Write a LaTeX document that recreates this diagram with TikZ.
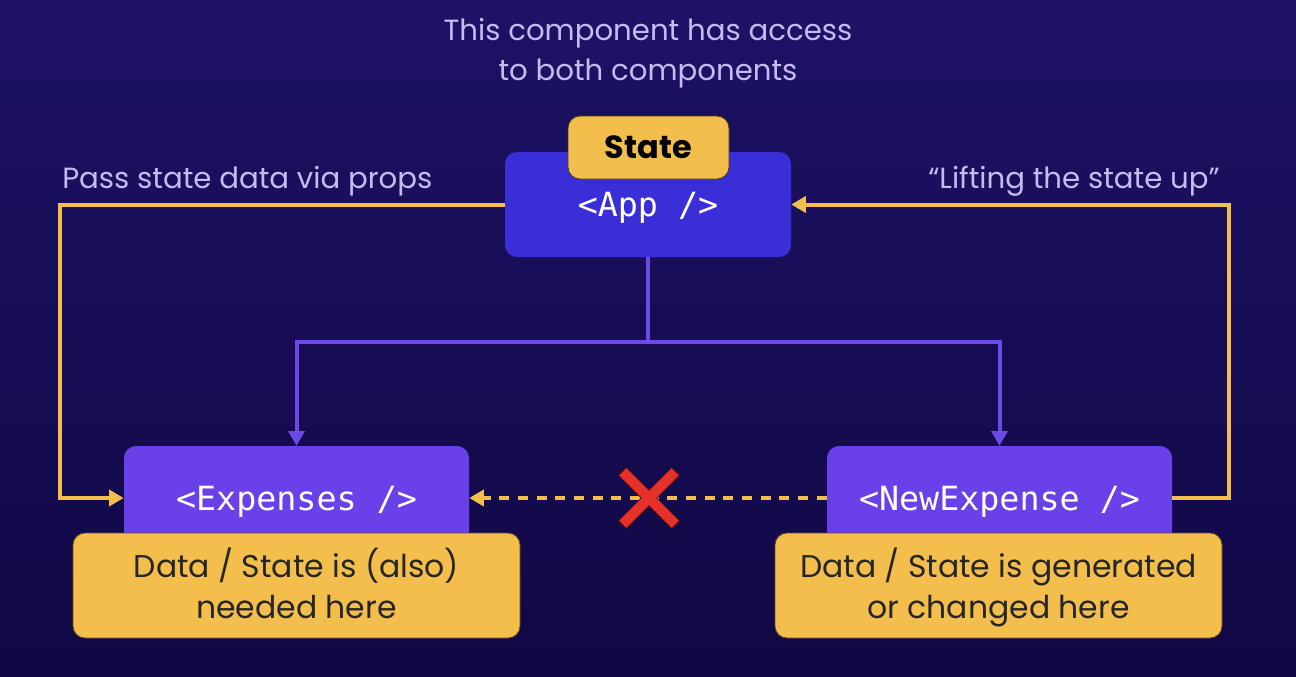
\documentclass[tikz,border=0pt]{standalone}
\usepackage{fontspec}
\setmainfont{Poppins}
\setmonofont{DejaVu Sans Mono}
\usetikzlibrary{arrows.meta}
\definecolor{bgtop}{HTML}{1D1266}
\definecolor{bgbot}{HTML}{100844}
\definecolor{appblue}{HTML}{3A2ED8}
\definecolor{comppurple}{HTML}{6A40E8}
\definecolor{linepurple}{HTML}{6B4AE8}
\definecolor{yel}{HTML}{F4BE4C}
\definecolor{lav}{HTML}{C6BAF0}
\definecolor{crossred}{HTML}{E6302A}
\begin{document}
\begin{tikzpicture}[x=0.75pt,y=-0.75pt,
  yline/.style={draw=yel,line width=3pt},
  pline/.style={draw=linepurple,line width=3pt},
  ytip/.style={-{Triangle[length=11pt,width=12pt]}},
  ptip/.style={-{Triangle[length=11pt,width=12pt]}},
  appbox/.style={fill=appblue,rounded corners=9pt,minimum width=214.5pt,minimum height=78.75pt,text=white,font=\ttfamily\fontsize{25}{30}\selectfont,inner sep=0pt,text height=18.5pt,text depth=0pt},
  compbox/.style={fill=comppurple,rounded corners=9pt,minimum width=258.75pt,minimum height=78pt,text=white,font=\ttfamily\fontsize{25}{30}\selectfont,inner sep=0pt,text height=18.5pt,text depth=0pt},
  notebox/.style={fill=yel,draw=black!60!yel,line width=0.6pt,rounded corners=9pt,minimum width=335.25pt,minimum height=78.75pt,align=center,text=black!85,font=\fontsize{23.6}{31}\selectfont,inner sep=0pt},
  statebox/.style={fill=yel,draw=black!70!yel,line width=0.6pt,rounded corners=9pt,minimum width=120.75pt,minimum height=47.25pt,text=black,font=\bfseries\fontsize{24}{28}\selectfont,inner sep=0pt},
  lbl/.style={text=lav,font=\fontsize{21.9}{30}\selectfont,inner sep=0pt}
]
\shade[top color=bgtop,bottom color=bgbot] (0,0) rectangle (1296,676);
\useasboundingbox (0,0) rectangle (1296,676);

\node[lbl,align=center] (title) at (648,53) {This component has access\\to both components};

\node[appbox] (app) at (648,204.5) {<App />};
\node[statebox] (state) at (648.5,147.5) {State};

\node[compbox] (exp) at (296.5,498) {<Expenses />};
\node[compbox] (newe) at (999.5,498) {<NewExpense />};

\node[notebox] (expnote) at (296.5,585.5) {\rule{0pt}{27.7pt}Data / State is (also)\\\strut needed here};
\node[notebox] (newnote) at (998.5,585.5) {\rule{0pt}{27.7pt}Data / State is generated\\\strut or changed here};

\node[lbl,anchor=west] (pass) at (62,181) {Pass state data via props};
\node[lbl,anchor=east] (lift) at (1220,181) {“Lifting the state up”};

% yellow connectors
\coordinate (lc) at (60,204.5);
\coordinate (rc) at (1229,498);
\draw[yline,ytip] (app.west) -- (lc) |- (exp.west);
\draw[yline,ytip] (newe.east) -- (rc) |- (app.east);
\draw[yline,ytip,dash pattern=on 7.5pt off 6.5pt] (newe.west) -- (exp.east);

% purple connectors
\coordinate (j) at (648,342);
\draw[pline] (app.south) -- (j);
\draw[pline,ptip] (j) -| (exp.north);
\draw[pline,ptip] (j) -| (newe.north);

% red cross
\coordinate (x) at (649,498);
\draw[line width=9pt,draw=black!70!crossred] ([shift={(-27,-27)}]x) -- ([shift={(27,27)}]x) ([shift={(-27,27)}]x) -- ([shift={(27,-27)}]x);
\draw[line width=7.5pt,draw=crossred] ([shift={(-26.2,-26.2)}]x) -- ([shift={(26.2,26.2)}]x) ([shift={(-26.2,26.2)}]x) -- ([shift={(26.2,-26.2)}]x);
\end{tikzpicture}
\end{document}
